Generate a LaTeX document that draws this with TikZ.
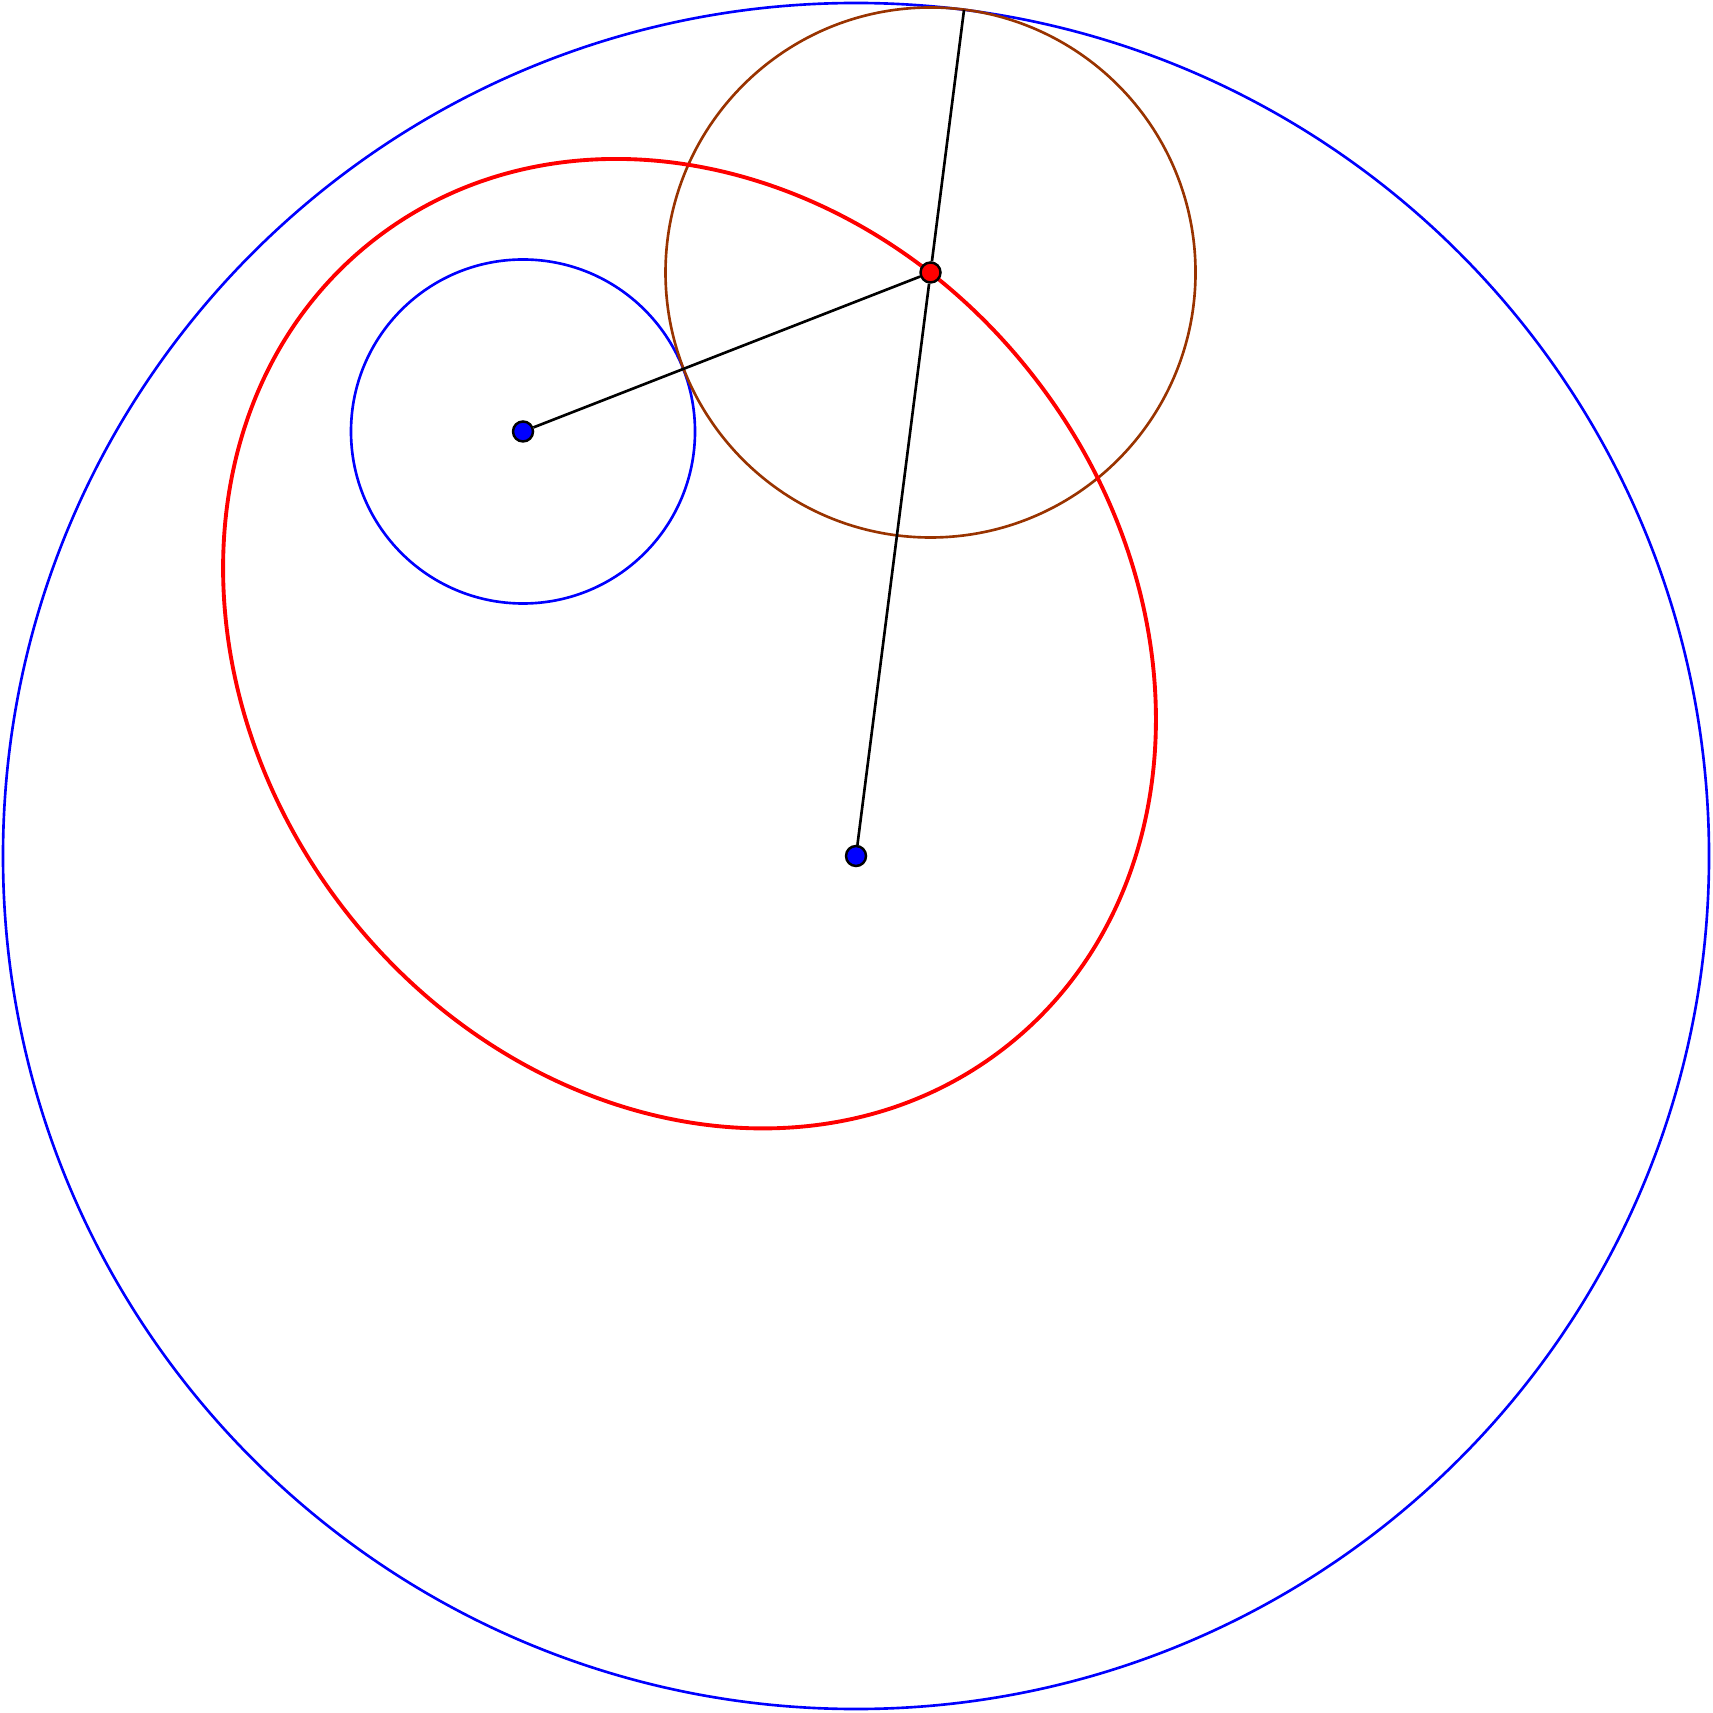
\documentclass[tikz,border=0pt]{standalone}
\usepackage{tikz}
\usetikzlibrary{calc}
\usetikzlibrary{backgrounds}

\definecolor{rust}{RGB}{153,51,0}

\begin{document}
\begin{tikzpicture}

		\tikzstyle{focus}  = [circle, minimum size=0.2cm, draw, line width=0.7pt, inner sep=0pt, fill=blue]
		\tikzstyle{moving} = [focus, fill=red]
		\tikzstyle{thin}   = [line width=0.75pt]
		\useasboundingbox (0,0) rectangle (17.12,-17.13);
		%%Points
		\node [focus](F1) at (5.23,-4.315) {};
		\node [focus](F2) at (8.56,-8.56) {};
		\node [moving](P) at (9.305,-2.725) {};
		\coordinate (M) at ($(F1)!0.5!(F2)$);
		\coordinate (Q) at ($(F2)!8.53cm!(P)$);
		%%Curves
		\begin{scope}[on background layer]
		\draw [thin, blue] (F2) circle (8.53);
		\draw [thin, blue] (F1) circle (1.72);
		\draw [thin, rust] (P) circle (2.65);
		\draw [line width=1.1pt, red, rotate around={-51.9:(M)}] (M) ellipse (5.125 and 4.357);
		\end{scope}
		%%Segments
		\draw [thin] (F1)--(P);
		\draw [thin] (F2)--(P)--(Q);
	\end{tikzpicture}
\end{document}
